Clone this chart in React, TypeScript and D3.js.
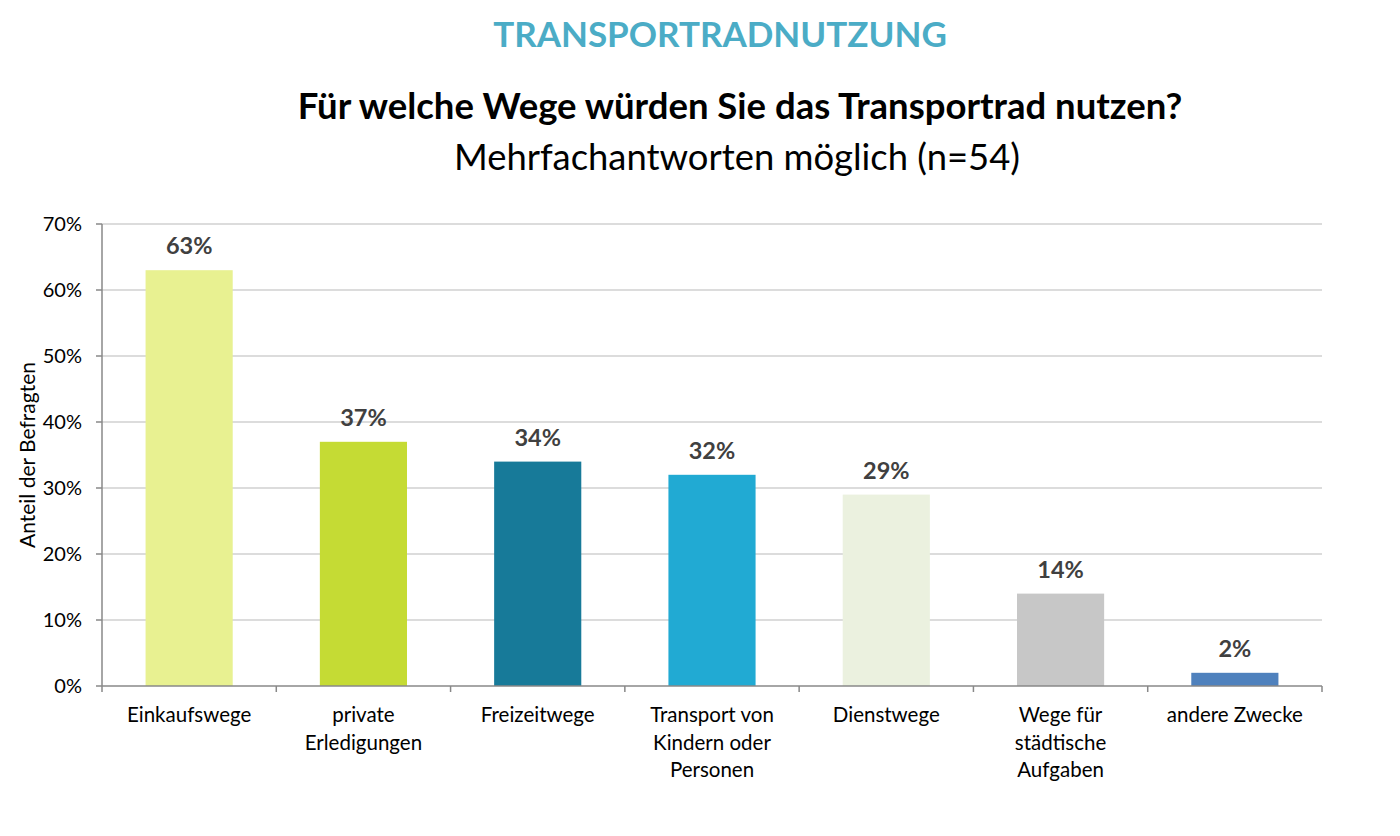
import React from 'react';
import * as d3 from 'd3';

const categories = [
  ['Einkaufswege'],
  ['private', 'Erledigungen'],
  ['Freizeitwege'],
  ['Transport von', 'Kindern oder', 'Personen'],
  ['Dienstwege'],
  ['Wege für', 'städtische', 'Aufgaben'],
  ['andere Zwecke'],
];
const values = [63, 37, 34, 32, 29, 14, 2];
const barColors = ['#E8F191', '#C5DB34', '#177A99', '#21AAD3', '#EBF1DF', '#C7C7C7', '#4F81BD'];
const yTicks = [0, 10, 20, 30, 40, 50, 60, 70];

const FONT = 'Lato, "Open Sans", sans-serif';

const App: React.FC = () => {
  const width = 1400;
  const height = 836;
  const margin = { left: 102, right: 78, top: 224, bottom: 150 };

  const keys = categories.map((c) => c.join(' '));
  const x = d3.scaleBand<string>()
    .domain(keys)
    .range([margin.left, width - margin.right])
    .paddingInner(0.5)
    .paddingOuter(0.25);
  const y = d3.scaleLinear().domain([0, 70]).range([height - margin.bottom, margin.top]);

  const x0 = margin.left;
  const x1 = width - margin.right;
  const y0 = y(0);
  const step = x.step();
  const cx = (k: string) => (x(k) ?? 0) + x.bandwidth() / 2;

  return (
    <svg width={width} height={height} style={{ position: 'absolute', left: 0, top: 0, background: '#fff' }}>
      <text x={720} y={47} textAnchor="middle" fontFamily={FONT} fontWeight={700} fontSize={35} fill="#4BACC6">
        TRANSPORTRADNUTZUNG
      </text>
      <text x={740} y={119} textAnchor="middle" fontFamily={FONT} fontWeight={700} fontSize={36.5} fill="#000">
        Für welche Wege würden Sie das Transportrad nutzen?
      </text>
      <text x={737} y={170} textAnchor="middle" fontFamily={FONT} fontSize={36.4} fill="#000">
        Mehrfachantworten möglich (n=54)
      </text>

      {/* grid */}
      {yTicks.slice(1).map((t) => (
        <line key={t} x1={x0} x2={x1} y1={y(t)} y2={y(t)} stroke="#D0D0D0" strokeWidth={1.5} />
      ))}

      {/* bars */}
      {values.map((v, i) => (
        <g key={keys[i]}>
          <rect x={x(keys[i])} y={y(v)} width={x.bandwidth()} height={y0 - y(v)} fill={barColors[i]} />
          <text
            x={cx(keys[i])}
            y={y(v) - 16}
            textAnchor="middle"
            fontFamily={FONT}
            fontWeight={700}
            fontSize={23.5}
            fill="#404040"
          >
            {v}%
          </text>
        </g>
      ))}

      {/* y axis */}
      <line x1={x0} x2={x0} y1={y(70)} y2={y0} stroke="#888" strokeWidth={1.5} />
      {yTicks.map((t) => (
        <g key={t}>
          <line x1={x0 - 6} x2={x0} y1={y(t)} y2={y(t)} stroke="#888" strokeWidth={1.5} />
          <text x={x0 - 20} y={y(t) + 7} textAnchor="end" fontFamily={FONT} fontSize={20} fill="#000">
            {t}%
          </text>
        </g>
      ))}
      <text
        transform={`translate(35,${(y(70) + y0) / 2}) rotate(-90)`}
        textAnchor="middle"
        fontFamily={FONT}
        fontSize={21}
        fill="#000"
      >
        Anteil der Befragten
      </text>

      {/* x axis */}
      <line x1={x0} x2={x1} y1={y0} y2={y0} stroke="#888" strokeWidth={1.5} />
      {d3.range(keys.length + 1).map((i) => (
        <line key={i} x1={x0 + i * step} x2={x0 + i * step} y1={y0} y2={y0 + 6} stroke="#888" strokeWidth={1.5} />
      ))}
      {categories.map((lines, i) => (
        <text
          key={keys[i]}
          x={cx(keys[i])}
          y={y0 + 36}
          textAnchor="middle"
          fontFamily={FONT}
          fontSize={20.5}
          fill="#000"
        >
          {lines.map((l, j) => (
            <tspan key={j} x={cx(keys[i])} dy={j === 0 ? 0 : 27.5}>
              {l}
            </tspan>
          ))}
        </text>
      ))}
    </svg>
  );
};

export default App;
